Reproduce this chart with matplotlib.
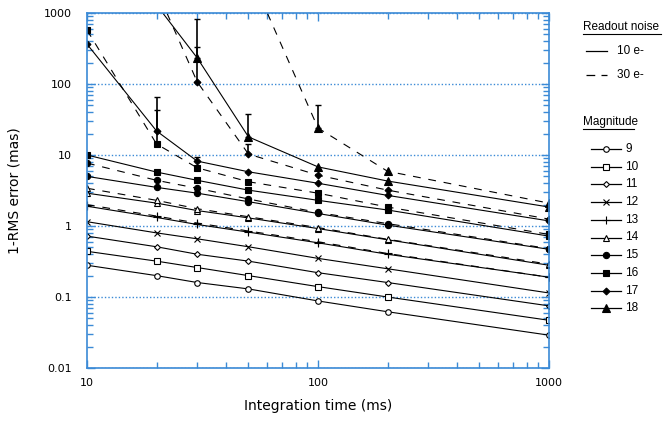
import numpy as np
import matplotlib.pyplot as plt
from matplotlib.ticker import FuncFormatter, LogLocator, NullFormatter

nan = np.nan

# integration times (ms)
times = [10, 20, 30, 50, 100, 200, 1000]
mags = [9, 10, 11, 12, 13, 14, 15, 16, 17, 18]

# 1-RMS error (mas), readout noise 10 e-  (solid lines)
ron10_m9 = [0.28, 0.20, 0.16, 0.13, 0.088, 0.062, 0.029]
ron10_m10 = [0.44, 0.32, 0.26, 0.20, 0.14, 0.10, 0.047]
ron10_m11 = [0.72, 0.51, 0.40, 0.32, 0.22, 0.16, 0.075]
ron10_m12 = [1.15, 0.80, 0.66, 0.51, 0.35, 0.25, 0.114]
ron10_m13 = [1.9, 1.32, 1.05, 0.82, 0.58, 0.40, 0.19]
ron10_m14 = [2.9, 2.1, 1.65, 1.3, 0.92, 0.64, 0.28]
ron10_m15 = [5.0, 3.5, 2.9, 2.2, 1.5, 1.03, 0.47]
ron10_m16 = [10.0, 5.75, 4.4, 3.2, 2.3, 1.68, 0.72]
ron10_m17 = [365, 21.8, 8.2, 5.8, 4.0, 2.7, 1.18]
ron10_m18 = [nan, 1300, 233, 18, 6.8, 4.3, 1.85]

# readout noise 30 e- (dashed lines), only where they split from the solid ones
ron30_m13 = [2.0, 1.38, 1.1, 0.85, 0.60, 0.41, 0.19]
ron30_m14 = [3.4, 2.3, 1.75, 1.35, 0.95, 0.65, 0.29]
ron30_m15 = [7.7, 4.4, 3.4, 2.4, 1.55, 1.08, 0.48]
ron30_m16 = [575, 14.3, 6.6, 4.2, 2.9, 1.85, 0.76]
ron30_m17 = [nan, 2150, 107, 10.3, 5.2, 3.2, 1.25]
ron30_m18 = [nan, nan, nan, 4000, 24, 5.9, 2.1]

# upper error bars
bar_t = [20, 20, 30, 30, 30, 50, 50, 100]
bar_val = [14.3, 21.8, 233, 107, 8.2, 18, 10.3, 24]
bar_top = [43, 65, 820, 330, 9.4, 38, 14.3, 50]

solid = dict(zip(mags, [ron10_m9, ron10_m10, ron10_m11, ron10_m12, ron10_m13,
                        ron10_m14, ron10_m15, ron10_m16, ron10_m17, ron10_m18]))
dashed = dict(zip([13, 14, 15, 16, 17, 18],
                  [ron30_m13, ron30_m14, ron30_m15, ron30_m16, ron30_m17, ron30_m18]))

markers = {
    9: dict(marker='o', mfc='white', ms=4),
    10: dict(marker='s', mfc='white', ms=4.2),
    11: dict(marker='D', mfc='white', ms=3),
    12: dict(marker='x', ms=4.5),
    13: dict(marker='+', ms=5.5),
    14: dict(marker='^', mfc='white', ms=4.5),
    15: dict(marker='o', mfc='black', ms=4.5),
    16: dict(marker='s', mfc='black', ms=5),
    17: dict(marker='D', mfc='black', ms=3.5),
    18: dict(marker='^', mfc='black', ms=5.5),
}

blue = '#3b8ad6'

fig = plt.figure(figsize=(6.65, 4.24), dpi=100)
ax = fig.add_axes([87 / 665, 1 - 368 / 424, (549 - 87) / 665, (368 - 13) / 424])

for m in mags:
    ax.plot(times, solid[m], color='black', lw=0.8, mec='black', mew=0.8,
            **markers[m])
for m in dashed:
    ax.plot(times, dashed[m], color='black', lw=0.8, ls=(0, (7, 7)),
            mec='black', mew=0.8, **markers[m])

lower = np.zeros(len(bar_val))
upper = np.array(bar_top) - np.array(bar_val)
ax.errorbar(bar_t, bar_val, yerr=[lower, upper], fmt='none', ecolor='black',
            elinewidth=1.2, capsize=2.5, capthick=1)

ax.set_xscale('log')
ax.set_yscale('log')
ax.set_xlim(10, 1000)
ax.set_ylim(0.01, 1000)

fmt = FuncFormatter(lambda v, p: f'{v:g}')
ax.xaxis.set_major_formatter(fmt)
ax.yaxis.set_major_formatter(fmt)
ax.xaxis.set_minor_formatter(NullFormatter())
ax.yaxis.set_major_locator(LogLocator(base=10, numticks=10))
ax.yaxis.set_minor_locator(LogLocator(base=10, subs=np.arange(2, 10), numticks=20))
ax.yaxis.set_minor_formatter(NullFormatter())

ax.tick_params(which='both', direction='in', colors=blue, labelcolor='black',
               top=True, right=True, labelsize=8)
ax.tick_params(axis='x', pad=7)
ax.tick_params(axis='y', pad=11)
ax.tick_params(which='major', length=6, width=1)
ax.tick_params(which='minor', length=4, width=1)
for s in ax.spines.values():
    s.set_color(blue)
    s.set_linewidth(1.2)
ax.yaxis.grid(True, which='major', ls=(0, (1, 1.5)), color=blue, lw=1)

ax.set_xlabel('Integration time (ms)', fontsize=10, labelpad=8)
ax.set_ylabel('1-RMS error (mas)', fontsize=10, labelpad=16)

# legend drawn by hand on an overlay in pixel coordinates
lg = fig.add_axes([0, 0, 1, 1], facecolor='none')
lg.set_xlim(0, 665)
lg.set_ylim(424, 0)
lg.axis('off')

lfont = dict(fontsize=8.5, family='Liberation Sans', va='center')
lg.text(583, 27, 'Readout noise', ha='left', **lfont)
lg.plot([583, 661], [34, 34], color='black', lw=0.8)
lg.plot([586, 607], [51, 51], color='black', lw=0.9)
lg.text(617, 51, '10 e-', **lfont)
lg.plot([586, 607], [75, 75], color='black', lw=0.9, ls=(0, (7, 5)))
lg.text(617, 75, '30 e-', **lfont)

lg.text(583, 122, 'Magnitude', ha='left', **lfont)
lg.plot([583, 634], [129, 129], color='black', lw=0.8)
for i, m in enumerate(mags):
    y = 149 + 17.7 * i
    lg.plot([591, 621], [y, y], color='black', lw=0.9)
    lg.plot([606], [y], color='black', mec='black', mew=0.8, **markers[m])
    lg.text(625, y, str(m), **lfont)

fig.savefig('out.png', dpi=100)
